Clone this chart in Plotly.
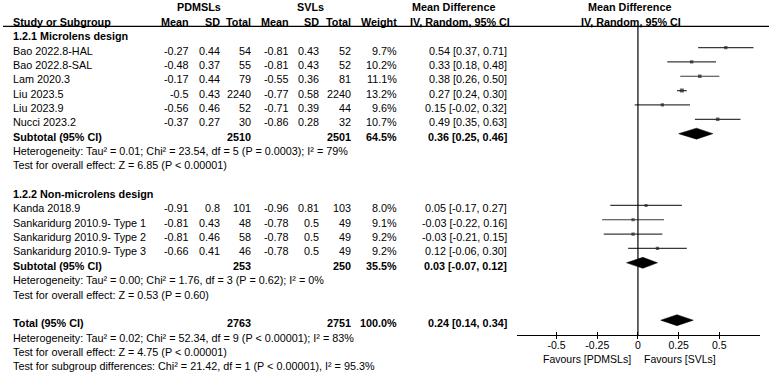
import plotly.graph_objects as go

W, H = 773, 374
FONT = "Liberation Sans, Arial, Helvetica, sans-serif"
FS = 10.8

# ---------------- data ----------------
group1_title = "1.2.1 Microlens design"
studies1 = ["Bao 2022.8-HAL", "Bao 2022.8-SAL", "Lam 2020.3", "Liu 2023.5", "Liu 2023.9", "Nucci 2023.2"]
pd_mean1 = [-0.27, -0.48, -0.17, -0.5, -0.56, -0.37]
pd_sd1 = [0.44, 0.37, 0.44, 0.43, 0.46, 0.27]
pd_n1 = [54, 55, 79, 2240, 52, 30]
sv_mean1 = [-0.81, -0.81, -0.55, -0.77, -0.71, -0.86]
sv_sd1 = [0.43, 0.43, 0.36, 0.58, 0.39, 0.28]
sv_n1 = [52, 52, 81, 2240, 44, 32]
weight1 = [9.7, 10.2, 11.1, 13.2, 9.6, 10.7]
md1 = [0.54, 0.33, 0.38, 0.27, 0.15, 0.49]
lo1 = [0.37, 0.18, 0.26, 0.24, -0.02, 0.35]
hi1 = [0.71, 0.48, 0.50, 0.30, 0.32, 0.63]

group2_title = "1.2.2 Non-microlens design"
studies2 = ["Kanda 2018.9", "Sankaridurg 2010.9- Type 1", "Sankaridurg 2010.9- Type 2", "Sankaridurg 2010.9- Type 3"]
pd_mean2 = [-0.91, -0.81, -0.81, -0.66]
pd_sd2 = [0.8, 0.43, 0.46, 0.41]
pd_n2 = [101, 48, 58, 46]
sv_mean2 = [-0.96, -0.78, -0.78, -0.78]
sv_sd2 = [0.81, 0.5, 0.5, 0.5]
sv_n2 = [103, 49, 49, 49]
weight2 = [8.0, 9.1, 9.2, 9.2]
md2 = [0.05, -0.03, -0.03, 0.12]
lo2 = [-0.17, -0.22, -0.21, -0.06]
hi2 = [0.27, 0.16, 0.15, 0.30]

sub_pd_n = [2510, 253]
sub_sv_n = [2501, 250]
sub_weight = [64.5, 35.5]
sub_md = [0.36, 0.03]
sub_lo = [0.25, -0.07]
sub_hi = [0.46, 0.12]
sub_het = [
    "Heterogeneity: Tau² = 0.01; Chi² = 23.54, df = 5 (P = 0.0003); I² = 79%",
    "Heterogeneity: Tau² = 0.00; Chi² = 1.76, df = 3 (P = 0.62); I² = 0%",
]
sub_test = [
    "Test for overall effect: Z = 6.85 (P < 0.00001)",
    "Test for overall effect: Z = 0.53 (P = 0.60)",
]

tot_pd_n = 2763
tot_sv_n = 2751
tot_weight = 100.0
tot_md = 0.24
tot_lo = 0.14
tot_hi = 0.34
tot_texts = [
    "Heterogeneity: Tau² = 0.02; Chi² = 52.34, df = 9 (P < 0.00001); I² = 83%",
    "Test for overall effect: Z = 4.75 (P < 0.00001)",
    "Test for subgroup differences: Chi² = 21.42, df = 1 (P < 0.00001), I² = 95.3%",
]

tick_vals = [-0.5, -0.25, 0, 0.25, 0.5]
tick_text = ["-0.5", "-0.25", "0", "0.25", "0.5"]
favours_left = "Favours [PDMSLs]"
favours_right = "Favours [SVLs]"

# ---------------- layout constants ----------------
ROW0 = 36.2
ROWH = 14.35
MARK_OFF = -3.0
AXIS_Y = 335.3
X_LEFT_PX, X_RIGHT_PX = 516.7, 760.0
X_RANGE = [-0.745, 0.75]

COL = dict(name=12, pdm=190, pds=220.5, pdn=252, svm=289.5, svs=319.5, svn=352, w=398, ci=508)


def row_y(i):
    return ROW0 + ROWH * i


ann = []


def txt(x, y, s, anchor="left", bold=False, size=FS):
    ann.append(dict(x=x / W, y=1 - y / H, xref="paper", yref="paper",
                    text=f"<b>{s}</b>" if bold else s, showarrow=False,
                    xanchor=anchor, yanchor="middle", borderpad=0,
                    font=dict(size=size, family=FONT, color="black")))


def fmt_ci(m, l, h):
    return f"{m:.2f} [{l:.2f}, {h:.2f}]"


# headers
y1, y2 = row_y(-2), row_y(-1)
txt(199, y1, "PDMSLs", "center", True)
txt(310, y1, "SVLs", "center", True)
txt(453, y1, "Mean Difference", "center", True)
txt(629, y1, "Mean Difference", "center", True)
txt(COL["name"], y2, "Study or Subgroup", "left", True)
txt(COL["pdm"], y2, "Mean", "right", True)
txt(COL["pds"], y2, "SD", "right", True)
txt(COL["pdn"], y2, "Total", "right", True)
txt(COL["svm"], y2, "Mean", "right", True)
txt(COL["svs"], y2, "SD", "right", True)
txt(COL["svn"], y2, "Total", "right", True)
txt(COL["w"], y2, "Weight", "right", True)
txt(460, y2, "IV, Random, 95% CI", "center", True)
txt(631, y2, "IV, Random, 95% CI", "center", True)

groups = [
    (group1_title, studies1, pd_mean1, pd_sd1, pd_n1, sv_mean1, sv_sd1, sv_n1, weight1, md1, lo1, hi1),
    (group2_title, studies2, pd_mean2, pd_sd2, pd_n2, sv_mean2, sv_sd2, sv_n2, weight2, md2, lo2, hi2),
]

line_x, line_y = [], []
sq_x, sq_y, sq_s = [], [], []
diamonds = []

r = 0
for g, (title, st, pm, ps, pn, sm, ss, sn, wt, md, lo, hi) in enumerate(groups):
    txt(COL["name"], row_y(r), title, "left", True)
    r += 1
    for k in range(len(st)):
        y = row_y(r)
        txt(COL["name"], y, st[k])
        txt(COL["pdm"], y, str(pm[k]), "right")
        txt(COL["pds"], y, str(ps[k]), "right")
        txt(COL["pdn"], y, str(pn[k]), "right")
        txt(COL["svm"], y, str(sm[k]), "right")
        txt(COL["svs"], y, str(ss[k]), "right")
        txt(COL["svn"], y, str(sn[k]), "right")
        txt(COL["w"], y, f"{wt[k]:.1f}%", "right")
        txt(COL["ci"], y, fmt_ci(md[k], lo[k], hi[k]), "right")
        my = y + MARK_OFF
        line_x += [lo[k], hi[k], None]
        line_y += [my, my, None]
        sq_x.append(md[k]); sq_y.append(my); sq_s.append(1.6 + wt[k] * 0.18)
        r += 1
    y = row_y(r)
    txt(COL["name"], y, "Subtotal (95% CI)", "left", True)
    txt(COL["pdn"], y, str(sub_pd_n[g]), "right", True)
    txt(COL["svn"], y, str(sub_sv_n[g]), "right", True)
    txt(COL["w"], y, f"{sub_weight[g]:.1f}%", "right", True)
    txt(COL["ci"], y, fmt_ci(sub_md[g], sub_lo[g], sub_hi[g]), "right", True)
    diamonds.append((sub_md[g], sub_lo[g], sub_hi[g], y + MARK_OFF))
    r += 1
    txt(COL["name"], row_y(r), sub_het[g]); r += 1
    txt(COL["name"], row_y(r), sub_test[g]); r += 1
    r += 1

y = row_y(r)
txt(COL["name"], y, "Total (95% CI)", "left", True)
txt(COL["pdn"], y, str(tot_pd_n), "right", True)
txt(COL["svn"], y, str(tot_sv_n), "right", True)
txt(COL["w"], y, f"{tot_weight:.1f}%", "right", True)
txt(COL["ci"], y, fmt_ci(tot_md, tot_lo, tot_hi), "right", True)
diamonds.append((tot_md, tot_lo, tot_hi, y + MARK_OFF))
r += 1
for t in tot_texts:
    txt(COL["name"], row_y(r), t)
    r += 1

txt(632, 359, favours_left, "right", size=10.5)
txt(643, 359, favours_right, "left", size=10.5)

fig = go.Figure()
fig.add_trace(go.Scatter(x=line_x, y=line_y, mode="lines",
                         line=dict(color="#3a3a3a", width=1.2), hoverinfo="skip", showlegend=False))
fig.add_trace(go.Scatter(x=sq_x, y=sq_y, mode="markers",
                         marker=dict(symbol="square", size=sq_s, color="#222222", line=dict(width=0)),
                         showlegend=False))
HALF = 5.5
for (m, l, h, yy) in diamonds:
    fig.add_trace(go.Scatter(x=[l, m, h, m, l], y=[yy, yy - HALF, yy, yy + HALF, yy],
                             mode="lines", fill="toself", fillcolor="black",
                             line=dict(color="black", width=0.5), showlegend=False, hoverinfo="skip"))

# invisible trace on overlay axis for crossing ticks
fig.add_trace(go.Scatter(x=[0], y=[100], xaxis="x2", mode="markers",
                         marker=dict(opacity=0), showlegend=False, hoverinfo="skip"))

y_dom0 = 1 - AXIS_Y / H
fig.update_layout(
    width=W, height=H,
    margin=dict(l=0, r=0, t=0, b=0),
    paper_bgcolor="white", plot_bgcolor="rgba(0,0,0,0)",
    showlegend=False,
    xaxis=dict(domain=[X_LEFT_PX / W, X_RIGHT_PX / W], range=X_RANGE,
               showgrid=False, zeroline=False, showline=True, linecolor="black", linewidth=1.2,
               ticks="outside", ticklen=3, tickwidth=1.2, tickcolor="black",
               tickvals=tick_vals, ticktext=tick_text, ticklabelstandoff=-3,
               tickfont=dict(size=10.5, family=FONT, color="black"), anchor="y"),
    xaxis2=dict(domain=[X_LEFT_PX / W, X_RIGHT_PX / W], range=X_RANGE, overlaying="x",
                anchor="y", side="bottom", showgrid=False, zeroline=False, showline=False,
                ticks="inside", ticklen=3, tickwidth=1.2, tickcolor="black",
                tickvals=tick_vals, showticklabels=False),
    yaxis=dict(domain=[y_dom0, 1], range=[AXIS_Y, 0], visible=False, fixedrange=True),
    annotations=ann,
    shapes=[
        dict(type="line", xref="x", yref="y", x0=0, x1=0, y0=26.5, y1=AXIS_Y,
             line=dict(color="black", width=1.2)),
        dict(type="line", xref="paper", yref="paper", x0=3 / W, x1=769 / W,
             y0=1 - 26.3 / H, y1=1 - 26.3 / H, line=dict(color="black", width=1.2)),
    ],
)

fig.write_html("out.html", config={"displayModeBar": False},
               post_script="document.body.style.margin='0';document.body.style.overflow='hidden';")
